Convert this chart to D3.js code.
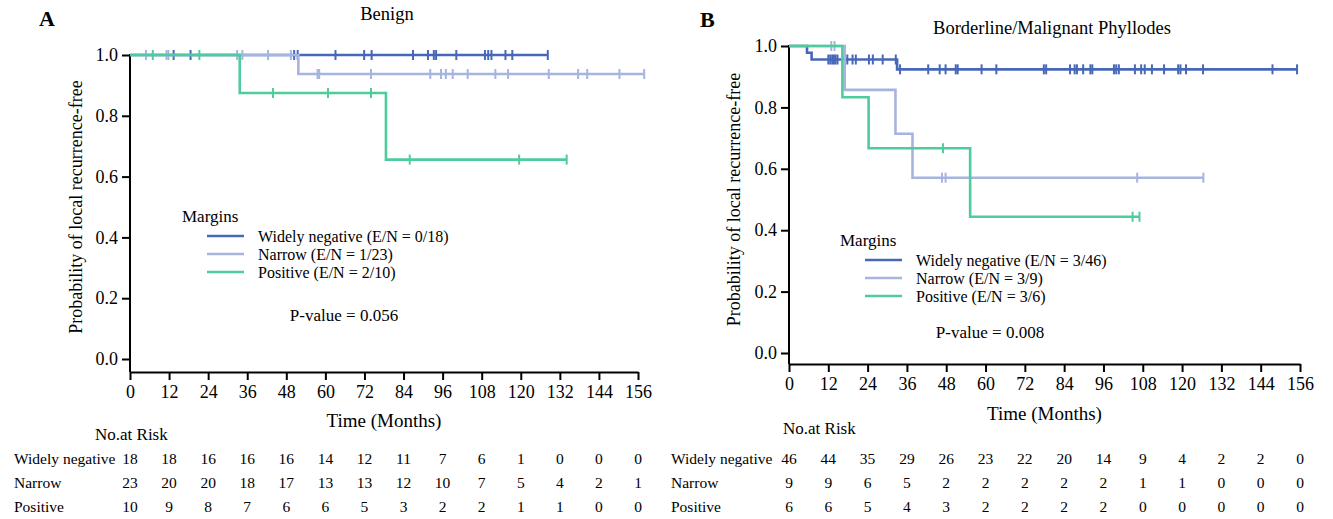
<!DOCTYPE html>
<html>
<head>
<meta charset="utf-8">
<script src="https://cdn.jsdelivr.net/npm/d3@7"></script>
<style>
  body { margin: 0; background: #fff; }
  svg text { font-family: "Liberation Serif", "Times New Roman", serif; fill: #000; }
  .axis path, .axis line { stroke: #000; stroke-width: 2px; }
  .axis text { font-size: 18px; }
</style>
</head>
<body>
<div id="chart"></div>
<script>
// ---- data ----
const xTicks = [0, 12, 24, 36, 48, 60, 72, 84, 96, 108, 120, 132, 144, 156];
const yTicks = [0, 0.2, 0.4, 0.6, 0.8, 1.0];
const groups = ['Widely negative', 'Narrow', 'Positive'];

// Benign: step times / survival, censor times
const aWideT = [0, 128.3], aWideS = [1, 1];
const aNarrowT = [0, 51.7, 157.9], aNarrowS = [1, 0.9375, 0.9375];
const aPosT = [0, 33.7, 78.6, 134.1], aPosS = [1, 0.875, 0.656, 0.656];
const aWideCens = [13.4, 18.6, 50.4, 51.5, 63.1, 71.9, 74.2, 86.9, 91.5, 93.3, 94.0, 100.2,
  109.0, 110.0, 111.0, 115.3, 117.4, 128.3];
const aNarrowCens = [4.9, 11.2, 11.8, 32.9, 34.5, 42.4, 49.4, 57.6, 58.1, 74.0, 92.2, 95.5,
  97.0, 99.1, 103.7, 112.2, 116.1, 128.6, 137.6, 140.4, 150.3, 157.9];
const aPosCens = [7.0, 21.3, 43.9, 60.8, 74.0, 85.9, 119.5, 134.1];
const aLegend = ['Widely negative (E/N = 0/18)', 'Narrow (E/N = 1/23)', 'Positive (E/N = 2/10)'];
const aRisk = [
  [18, 18, 16, 16, 16, 14, 12, 11, 7, 6, 1, 0, 0, 0],
  [23, 20, 20, 18, 17, 13, 13, 12, 10, 7, 5, 4, 2, 1],
  [10, 9, 8, 7, 6, 6, 5, 3, 2, 2, 1, 1, 0, 0]
];

// Borderline/Malignant
const bWideT = [0, 5.5, 6.9, 33.0, 155.1], bWideS = [1, 0.978, 0.956, 0.924, 0.924];
const bNarrowT = [0, 17.0, 32.5, 37.7, 126.5], bNarrowS = [1, 0.857, 0.714, 0.571, 0.571];
const bPosT = [0, 16.3, 24.3, 55.3, 107.0], bPosS = [1, 0.833, 0.667, 0.444, 0.444];
const bWideCens = [12.0, 12.6, 13.2, 13.7, 14.2, 14.8, 17.8, 19.4, 20.4, 24.4, 25.6, 28.6,
  32.6, 33.9, 42.5, 46.0, 47.8, 50.9, 51.5, 58.8, 63.3, 77.8, 78.5, 85.8, 87.2, 87.9, 89.8,
  92.0, 92.6, 99.2, 99.9, 100.7, 105.6, 107.5, 108.6, 110.8, 114.5, 118.8, 119.5, 121.2,
  126.4, 147.6, 155.1];
const bNarrowCens = [12.9, 13.9, 46.7, 47.8, 106.3, 126.5];
const bPosCens = [47.0, 104.9, 107.0];
const bLegend = ['Widely negative (E/N = 3/46)', 'Narrow (E/N = 3/9)', 'Positive (E/N = 3/6)'];
const bRisk = [
  [46, 44, 35, 29, 26, 23, 22, 20, 14, 9, 4, 2, 2, 0],
  [9, 9, 6, 5, 2, 2, 2, 2, 2, 1, 1, 0, 0, 0],
  [6, 6, 5, 4, 3, 2, 2, 2, 2, 0, 0, 0, 0, 0]
];

const colors = ['#4767b8', '#a6b5e0', '#4fcc9c'];

const svg = d3.select('#chart').append('svg')
  .attr('width', 1333).attr('height', 519)
  .style('background', '#fff');

function drawPanel(p) {
  const x = d3.scaleLinear().domain([0, 156]).range([p.x0, p.x1]);
  const y = d3.scaleLinear().domain([0, 1]).range([p.y0, p.y1]);
  const g = svg.append('g');

  // axes
  const yAxis = g.append('g').attr('class', 'axis')
    .attr('transform', `translate(${p.x0},0)`)
    .call(d3.axisLeft(y).tickValues(yTicks).tickFormat(d3.format('.1f')).tickSize(8).tickSizeOuter(0).tickPadding(4));
  yAxis.select('.domain').remove();
  g.append('line').attr('x1', p.x0).attr('x2', p.x0).attr('y1', y(1) - 1).attr('y2', p.axisY)
    .attr('stroke', '#000').attr('stroke-width', 2);

  g.append('g').attr('class', 'axis')
    .attr('transform', `translate(0,${p.axisY})`)
    .call(d3.axisBottom(x).tickValues(xTicks).tickSize(8).tickSizeOuter(0).tickPadding(5));

  // curves
  const series = [
    {t: p.wideT, s: p.wideS, c: p.wideC},
    {t: p.narrowT, s: p.narrowS, c: p.narrowC},
    {t: p.posT, s: p.posS, c: p.posC}
  ];
  const line = d3.line().x(d => x(d[0])).y(d => y(d[1])).curve(d3.curveStepAfter);
  series.forEach((sr, i) => {
    const pts = sr.t.map((t, k) => [t, sr.s[k]]);
    g.append('path').datum(pts)
      .attr('d', line).attr('fill', 'none')
      .attr('stroke', colors[i]).attr('stroke-width', 2.6);
    const level = t => {
      let v = sr.s[0];
      sr.t.forEach((tt, k) => { if (tt <= t) v = sr.s[k]; });
      return v;
    };
    g.selectAll(null).data(sr.c).enter().append('line')
      .attr('x1', d => x(d)).attr('x2', d => x(d))
      .attr('y1', d => y(level(d)) - 5).attr('y2', d => y(level(d)) + 5)
      .attr('stroke', colors[i]).attr('stroke-width', 2);
  });

  // texts
  g.append('text').attr('x', p.labelX).attr('y', p.labelY)
    .style('font-size', '22px').style('font-weight', 'bold').text(p.label);
  g.append('text').attr('x', p.titleX).attr('y', p.titleY).attr('text-anchor', 'middle')
    .style('font-size', '18.5px').text(p.title);
  g.append('text')
    .attr('transform', `translate(${p.yLabX},${(y(0) + y(1)) / 2}) rotate(-90)`)
    .attr('text-anchor', 'middle').attr('dy', '0.35em')
    .style('font-size', '18px').text('Probability of local recurrence-free');
  g.append('text').attr('x', (p.x0 + p.x1) / 2).attr('y', p.xLabY)
    .attr('text-anchor', 'middle').attr('dy', '0.35em')
    .style('font-size', '19px').text('Time (Months)');

  // legend
  g.append('text').attr('x', p.legX).attr('y', p.legY).attr('dy', '0.35em')
    .style('font-size', '17px').text('Margins');
  p.legend.forEach((txt, i) => {
    const ly = p.legY + 20 + i * 18;
    g.append('line').attr('x1', p.legX + 25).attr('x2', p.legX + 62)
      .attr('y1', ly).attr('y2', ly).attr('stroke', colors[i]).attr('stroke-width', 2.6);
    g.append('text').attr('x', p.legX + 76).attr('y', ly).attr('dy', '0.35em')
      .style('font-size', '16px').text(txt);
  });
  g.append('text').attr('x', p.pX).attr('y', p.pY).attr('text-anchor', 'middle').attr('dy', '0.35em')
    .style('font-size', '17px').text(p.pText);

  // risk table
  g.append('text').attr('x', p.riskHeadX).attr('y', p.riskHeadY).attr('dy', '0.35em')
    .style('font-size', '17px').text('No.at Risk');
  groups.forEach((name, r) => {
    const ry = p.riskY0 + r * 24;
    g.append('text').attr('x', p.rowLabX).attr('y', ry).attr('dy', '0.35em')
      .style('font-size', '15.5px').text(name);
    g.selectAll(null).data(p.risk[r]).enter().append('text')
      .attr('x', (d, k) => x(xTicks[k])).attr('y', ry).attr('dy', '0.35em')
      .attr('text-anchor', 'middle').style('font-size', '15.5px')
      .text(d => d);
  });
}

drawPanel({
  x0: 130, x1: 638, y0: 359, y1: 55, axisY: 372,
  wideT: aWideT, wideS: aWideS, narrowT: aNarrowT, narrowS: aNarrowS, posT: aPosT, posS: aPosS,
  wideC: aWideCens, narrowC: aNarrowCens, posC: aPosCens,
  label: 'A', labelX: 39, labelY: 26, title: 'Benign', titleX: 387, titleY: 20,
  yLabX: 76, xLabY: 420,
  legX: 182, legY: 216, legend: aLegend, pX: 344, pY: 315, pText: 'P-value = 0.056',
  riskHeadX: 95, riskHeadY: 434, rowLabX: 14, riskY0: 459, risk: aRisk
});

drawPanel({
  x0: 789, x1: 1300, y0: 353, y1: 46, axisY: 364,
  wideT: bWideT, wideS: bWideS, narrowT: bNarrowT, narrowS: bNarrowS, posT: bPosT, posS: bPosS,
  wideC: bWideCens, narrowC: bNarrowCens, posC: bPosCens,
  label: 'B', labelX: 700, labelY: 27, title: 'Borderline/Malignant Phyllodes', titleX: 1052, titleY: 34,
  yLabX: 734, xLabY: 413,
  legX: 840, legY: 240, legend: bLegend, pX: 990, pY: 332, pText: 'P-value = 0.008',
  riskHeadX: 783, riskHeadY: 428, rowLabX: 671, riskY0: 459, risk: bRisk
});
</script>
</body>
</html>
